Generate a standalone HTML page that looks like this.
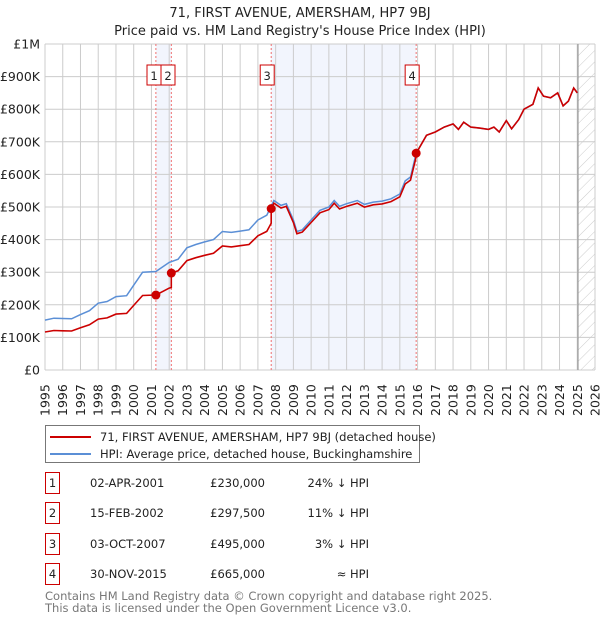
<!DOCTYPE html>
<html><head><meta charset="utf-8">
<style>
body{margin:0;background:#fff;font-family:"DejaVu Sans","Liberation Sans",sans-serif;}
#wrap{position:relative;width:600px;height:620px;overflow:hidden;}
svg{position:absolute;left:0;top:0;}
</style></head>
<body><div id="wrap">
<svg id="chart" width="600" height="620"></svg>
</div>
<script>
const hpiYears=[1995,1995.5,1996,1996.5,1997,1997.5,1998,1998.5,1999,1999.6,2000,2000.5,2001.25,2001.6,2002,2002.5,2003,2003.5,2004,2004.5,2005,2005.5,2006,2006.5,2007,2007.5,2007.9,2008.3,2008.6,2009,2009.2,2009.5,2010,2010.5,2011,2011.3,2011.6,2012,2012.6,2013,2013.5,2014,2014.5,2015,2015.3,2015.6,2015.92,2016.5,2017,2017.5,2018,2018.3,2018.6,2019,2019.5,2020,2020.3,2020.6,2021,2021.3,2021.7,2022,2022.5,2022.8,2023.1,2023.5,2023.9,2024.2,2024.5,2024.8,2025.0];
const hpiValues=[153,159,158,157,170,182,205,210,225,228,260,300,302,315,330,340,375,385,393,400,425,422,426,430,460,475,520,505,510,460,425,430,460,490,500,520,502,510,520,508,515,518,525,540,580,592,665,720,730,745,755,738,760,745,742,738,745,730,765,740,768,800,815,865,840,835,850,810,825,865,850];
const saleYears=[2001.25,2002.12,2007.75,2015.92];
const salePrices=[230,297.5,495,665];
const saleLabels=["1","2","3","4"];
const yTicks=[0,100,200,300,400,500,600,700,800,900,1000];
const yTickLabels=["£0","£100K","£200K","£300K","£400K","£500K","£600K","£700K","£800K","£900K","£1M"];
const xTicks=[1995,1996,1997,1998,1999,2000,2001,2002,2003,2004,2005,2006,2007,2008,2009,2010,2011,2012,2013,2014,2015,2016,2017,2018,2019,2020,2021,2022,2023,2024,2025,2026];
const tableDates=["02-APR-2001","15-FEB-2002","03-OCT-2007","30-NOV-2015"];
const tablePrices=["£230,000","£297,500","£495,000","£665,000"];
const tableRel=["24% ↓ HPI","11% ↓ HPI","3% ↓ HPI","≈ HPI"];

const NS="http://www.w3.org/2000/svg";
const svg=document.getElementById('chart');
const X0=45,X1=595,Y0=370,Y1=44;
const xS=y=>X0+(y-1995)/(2026-1995)*(X1-X0);
const yS=v=>Y0-v/1000*(Y0-Y1);
function mk(tag,at,parent){const e=document.createElementNS(NS,tag);for(const k in at)e.setAttribute(k,at[k]);(parent||svg).appendChild(e);return e;}
function txt(s,at){const e=mk('text',at);e.textContent=s;return e;}
function hpiAt(t){for(let i=0;i<hpiYears.length-1;i++){if(t<=hpiYears[i+1]){const f=(t-hpiYears[i])/(hpiYears[i+1]-hpiYears[i]);return hpiValues[i]+f*(hpiValues[i+1]-hpiValues[i]);}}return hpiValues[hpiValues.length-1];}

let t=txt("71, FIRST AVENUE, AMERSHAM, HP7 9BJ",{x:300,y:17,'text-anchor':'middle','font-size':13,fill:'#222'});

t=txt("Price paid vs. HM Land Registry's House Price Index (HPI)",{x:300,y:35,'text-anchor':'middle','font-size':13,fill:'#222'});


for(const [a,b] of [[0,1],[2,3]]){
  const r=mk('rect',{x:xS(saleYears[a]),y:Y1,width:xS(saleYears[b])-xS(saleYears[a]),height:Y0-Y1,fill:'#f2f5fd'});
  
}
const defs=mk('defs',{});
const pat=mk('pattern',{id:'hatch',width:8,height:8,patternUnits:'userSpaceOnUse',patternTransform:'rotate(45)'},defs);
mk('line',{x1:0,y1:0,x2:0,y2:8,stroke:'#ccc','stroke-width':1},pat);
const hx=xS(2025.04);
let h=mk('rect',{x:hx,y:Y1,width:X1-hx,height:Y0-Y1,fill:'url(#hatch)'});


yTicks.forEach((v,i)=>{
  const l=mk('line',{x1:X0,x2:X1,y1:yS(v),y2:yS(v),stroke:'#ccc','stroke-width':1});
  
  const tl=txt(yTickLabels[i],{x:X0-5,y:yS(v)+4.5,'text-anchor':'end','font-size':12.5,fill:'#222'});
  
});
xTicks.forEach(y=>{
  const l=mk('line',{x1:xS(y),x2:xS(y),y1:Y1,y2:Y0,stroke:'#ccc','stroke-width':1});
  
  const tl=txt(String(y),{x:0,y:0,'font-size':12.5,fill:'#222',transform:`translate(${xS(y)+4.5},${Y0+46}) rotate(-90)`});
  
});
let vl=mk('line',{x1:hx,x2:hx,y1:Y1,y2:Y0,stroke:'#999','stroke-width':1.2});


saleYears.forEach((sy,i)=>{
  const l=mk('line',{x1:xS(sy),x2:xS(sy),y1:Y1,y2:Y0,stroke:'#f07070','stroke-width':1,'stroke-dasharray':'2,2'});
  
});

let d=hpiYears.map((y,i)=>(i?'L':'M')+xS(y).toFixed(1)+','+yS(hpiValues[i]).toFixed(1)).join('');
let p=mk('path',{d,fill:'none',stroke:'#5b8fd6','stroke-width':1.5});


function ratioAt(y){let r=salePrices[0]/hpiAt(saleYears[0]);for(let i=0;i<saleYears.length;i++){if(y>=saleYears[i])r=salePrices[i]/hpiAt(saleYears[i]);}return r;}
let pts=[];
const allT=hpiYears.concat(saleYears).sort((a,b)=>a-b);
allT.forEach(y=>{
  const idx=saleYears.indexOf(y);
  if(idx>0){pts.push([y,hpiAt(y)*salePrices[idx-1]/hpiAt(saleYears[idx-1])]);}
  pts.push([y,hpiAt(y)*ratioAt(y)]);
});
d=pts.map((q,i)=>(i?'L':'M')+xS(q[0]).toFixed(1)+','+yS(q[1]).toFixed(1)).join('');
p=mk('path',{d,fill:'none',stroke:'#cc0000','stroke-width':1.6});


saleYears.forEach((sy,i)=>{
  const c=mk('circle',{cx:xS(sy),cy:yS(salePrices[i]),r:4.5,fill:'#cc0000'});
  
  const bx=i===0?147:(i===1?161:xS(sy)-11);
  const r=mk('rect',{x:bx,y:65,width:14,height:20,fill:'#fff',stroke:'#cc0000','stroke-width':1});
  
  const tt=txt(saleLabels[i],{x:bx+7,y:80,'text-anchor':'middle','font-size':11.5,fill:'#222'});
  
});

let lg=mk('rect',{x:45.5,y:425.5,width:374,height:37,fill:'#fff',stroke:'#777','stroke-width':1});

mk('line',{x1:50,x2:91,y1:437,y2:437,stroke:'#cc0000','stroke-width':2});
mk('line',{x1:50,x2:91,y1:454,y2:454,stroke:'#5b8fd6','stroke-width':2});
t=txt("71, FIRST AVENUE, AMERSHAM, HP7 9BJ (detached house)",{x:100,y:441,'font-size':11.5,fill:'#222'});

t=txt("HPI: Average price, detached house, Buckinghamshire",{x:100,y:458,'font-size':11.5,fill:'#222'});


const rowY=[483,513,544,574];
rowY.forEach((ry,i)=>{
  const b=mk('rect',{x:45.5,y:ry-10.5,width:14,height:21,fill:'#fff',stroke:'#cc0000','stroke-width':1});
  
  let e=txt(saleLabels[i],{x:52.5,y:ry+4,'text-anchor':'middle','font-size':11.5,fill:'#222'});
  e=txt(tableDates[i],{x:90,y:ry+4,'font-size':11.5,fill:'#222'});
  
  e=txt(tablePrices[i],{x:265,y:ry+4,'text-anchor':'end','font-size':11.5,fill:'#222'});
  
  e=txt(tableRel[i],{x:369,y:ry+4,'text-anchor':'end','font-size':11.5,fill:'#222'});
  
});
t=txt("Contains HM Land Registry data © Crown copyright and database right 2025.",{x:45,y:600,'font-size':11.5,fill:'#777'});

t=txt("This data is licensed under the Open Government Licence v3.0.",{x:45,y:612,'font-size':11.5,fill:'#777'});

</script>
</body></html>
